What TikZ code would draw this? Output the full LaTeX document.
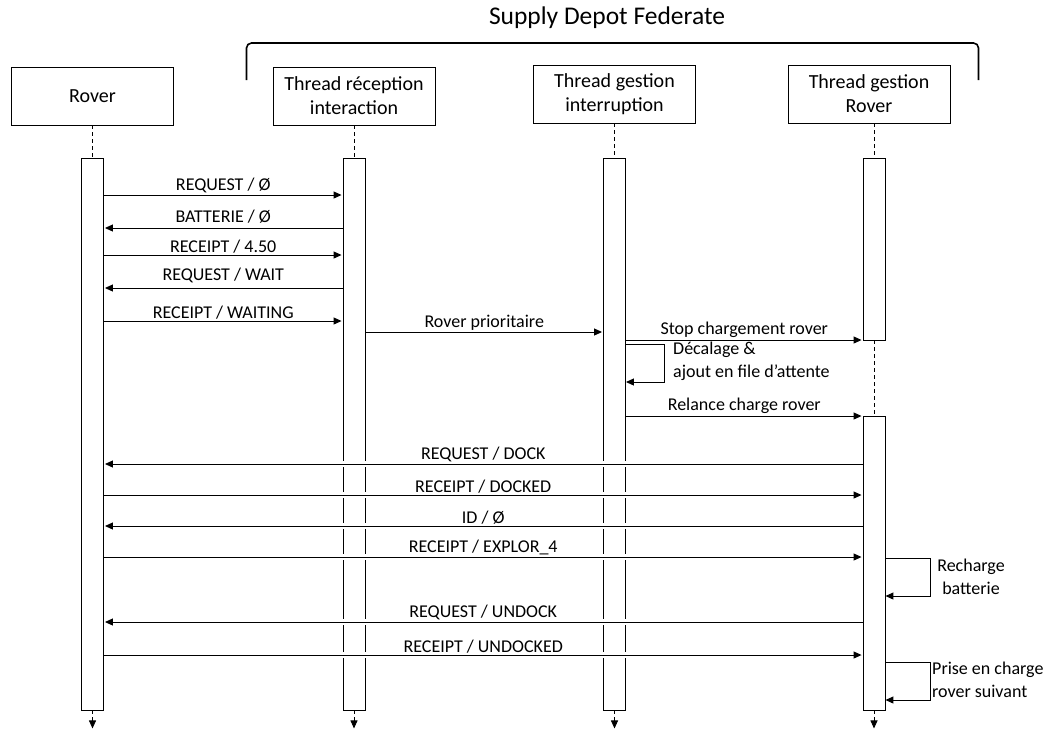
\documentclass[tikz,border=0pt]{standalone}
\usepackage{fontspec}
\setmainfont{Carlito}
\usetikzlibrary{arrows.meta}

\begin{document}
\begin{tikzpicture}[x=1pt, y=-1pt,
              actor/.style={draw, line width=0.9pt, minimum width=162pt, minimum height=58pt, inner sep=0pt, align=center, font=\fontsize{20}{24}\selectfont},
              bar/.style={draw, line width=0.9pt, fill=white, minimum width=22pt, inner sep=0pt},
              life/.style={dashed, dash pattern=on 4pt off 3pt, line width=0.9pt},
              tip/.style={-{Triangle[length=8pt, width=7pt]}},
              msg/.style={tip, line width=1pt, shorten >=1pt, preaction={draw=white, line width=6pt, -, shorten <=3pt, shorten >=3pt}},
              selfmsg/.style={tip, line width=1pt},
              lbl/.style={above, inner sep=1.5pt, font=\fontsize{18}{22}\selectfont},
              note/.style={inner sep=0pt, font=\fontsize{18}{22.5}\selectfont}]
              \useasboundingbox (0,0) rectangle (1046,729);

              \node[font=\fontsize{25.5}{30}\selectfont] (T) at (607,18) {Supply Depot Federate};
              \draw[line width=1.6pt, rounded corners=5pt] (246.5,80) -- (246.5,43) -- (978.5,43) -- (978.5,80);

              \node[actor] (R) at (92.5,96) {Rover};
              \node[actor] (TR) at (354,96) {Thread réception\\interaction};
              \node[actor] (TI) at (614.5,94) {Thread gestion\\interruption};
              \node[actor] (TG) at (869,94) {Thread gestion\\Rover};

              \node[bar, minimum height=552pt] (RB) at (92.5,434) {};
              \node[bar, minimum height=552pt] (TRB) at (354,434) {};
              \node[bar, minimum height=552pt] (TIB) at (614.5,434) {};
              \node[bar, minimum height=182pt] (TGB1) at (874,249) {};
              \node[bar, minimum height=294pt] (TGB2) at (874,563) {};

              \draw[life] (R) -- (RB);
              \draw[life] (TR) -- (TRB);
              \draw[life] (TI) -- (TIB);
              \draw[life] (TG.south -| TGB1) -- (TGB1);
              \draw[life] (TGB1) -- (TGB2);
              \foreach \b in {RB, TRB, TIB, TGB2} {
                \path (\b.south) ++(0,18) coordinate (\b-end);
                \draw[life, tip] (\b.south) -- (\b-end);
              }

              \draw[msg] (RB.east |- 0,195) -- node[lbl] {REQUEST / Ø} (TRB.west |- 0,195);
              \draw[msg] (TRB.west |- 0,228) -- node[lbl, yshift=3pt] {BATTERIE / Ø} (RB.east |- 0,228);
              \draw[msg] (RB.east |- 0,255) -- node[lbl] {RECEIPT / 4.50} (TRB.west |- 0,255);
              \draw[msg] (TRB.west |- 0,288) -- node[lbl, yshift=3pt] {REQUEST / WAIT} (RB.east |- 0,288);
              \draw[msg] (RB.east |- 0,321) -- node[lbl] {RECEIPT / WAITING} (TRB.west |- 0,321);
              \draw[msg] (TRB.east |- 0,332) -- node[lbl] {Rover prioritaire} (TIB.west |- 0,332);
              \draw[msg] (TIB.east |- 0,340) -- node[lbl] {Stop chargement rover} (TGB1.west |- 0,340);
              \draw[selfmsg] (TIB.east |- 0,344) -- ++(38.5,0) -- ++(0,38) -- (TIB.east |- 0,382);
              \node[note, anchor=west, align=left] (D) at (673,361.5) {Décalage \&\\ajout en file d’attente};
              \draw[msg] (TIB.east |- 0,416) -- node[lbl] {Relance charge rover} (TGB2.west |- 0,416);

              \draw[msg] (TGB2.west |- 0,464) -- node[lbl] {REQUEST / DOCK} (RB.east |- 0,464);
              \draw[msg] (RB.east |- 0,495) -- node[lbl] {RECEIPT / DOCKED} (TGB2.west |- 0,495);
              \draw[msg] (TGB2.west |- 0,526) -- node[lbl] {ID / Ø} (RB.east |- 0,526);
              \draw[msg] (RB.east |- 0,557) -- node[lbl] {RECEIPT / EXPLOR\_4} (TGB2.west |- 0,557);
              \draw[selfmsg] (TGB2.east |- 0,558) -- ++(45.5,0) -- ++(0,38) -- (TGB2.east |- 0,596);
              \node[note, align=center] (B) at (971,577) {Recharge\\batterie};
              \draw[msg] (TGB2.west |- 0,622) -- node[lbl] {REQUEST / UNDOCK} (RB.east |- 0,622);
              \draw[msg] (RB.east |- 0,655) -- node[lbl] {RECEIPT / UNDOCKED} (TGB2.west |- 0,655);
              \draw[selfmsg] (TGB2.east |- 0,662) -- ++(45.5,0) -- ++(0,38) -- (TGB2.east |- 0,700);
              \node[note, anchor=west, align=left] (P) at (932,680) {Prise en charge\\rover suivant};
            \end{tikzpicture}
\end{document}
